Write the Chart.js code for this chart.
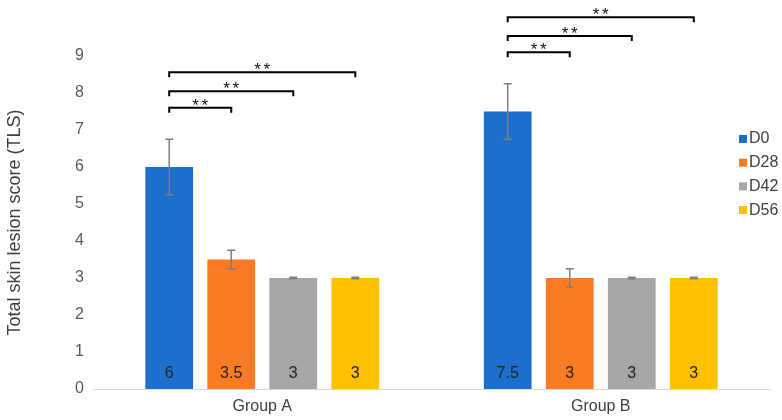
<!DOCTYPE html>
<html>
<head>
<meta charset="utf-8">
<script src="https://cdn.jsdelivr.net/npm/chart.js@4/dist/chart.umd.min.js"></script>
<style>
  html, body { margin: 0; padding: 0; background: #fff; }
  #wrap { width: 782px; height: 420px; }
</style>
</head>
<body>
<div id="wrap"><canvas id="chart"></canvas></div>
<script>
// Data
const categories = ["Group A", "Group B"];
const seriesNames = ["D0", "D28", "D42", "D56"];
const d0 = [6, 7.5];
const d28 = [3.5, 3];
const d42 = [3, 3];
const d56 = [3, 3];
// error bar half-widths (score units)
const d0Err = [0.75, 0.75];
const d28Err = [0.25, 0.25];
const d42Err = [0.02, 0.02];
const d56Err = [0.02, 0.02];
const yMax = 9;

// significance brackets: from series index to series index, level in score units
const bracketPairs = [[0, 1], [0, 2], [0, 3]];
const bracketLevels = [
  [7.6, 8.05, 8.56],   // Group A
  [9.1, 9.54, 10.05]   // Group B
];
const bracketMark = "*";

const colors = ["#1C6FCB", "#F97C25", "#A6A6A6", "#FFC000"];
const FONT = "'Liberation Sans', Arial, sans-serif";

const values = [d0, d28, d42, d56];
const errors = [d0Err, d28Err, d42Err, d56Err];

const overlay = {
  id: "overlay",
  afterDatasetsDraw(chart) {
    const ctx = chart.ctx;
    const y = chart.scales.y;
    const area = chart.chartArea;
    ctx.save();

    // error bars
    ctx.strokeStyle = "#7F7F7F";
    ctx.lineWidth = 1.5;
    chart.data.datasets.forEach((ds, i) => {
      chart.getDatasetMeta(i).data.forEach((bar, j) => {
        const v = ds.data[j], e = errors[i][j];
        const top = y.getPixelForValue(v + e);
        const bot = y.getPixelForValue(v - e);
        ctx.beginPath();
        ctx.moveTo(bar.x, top); ctx.lineTo(bar.x, bot);
        ctx.moveTo(bar.x - 4, top); ctx.lineTo(bar.x + 4, top);
        ctx.moveTo(bar.x - 4, bot); ctx.lineTo(bar.x + 4, bot);
        ctx.stroke();
      });
    });

    // value labels at the foot of each bar
    ctx.fillStyle = "#222";
    ctx.font = "16px " + FONT;
    ctx.textAlign = "center";
    ctx.textBaseline = "middle";
    chart.data.datasets.forEach((ds, i) => {
      chart.getDatasetMeta(i).data.forEach((bar, j) => {
        ctx.fillText(String(ds.data[j]), bar.x, y.getPixelForValue(0) - 15);
      });
    });

    // significance brackets (two spaced asterisks above each)
    ctx.strokeStyle = "#000";
    ctx.lineWidth = 2;
    ctx.font = "17px " + FONT;
    ctx.textBaseline = "alphabetic";
    categories.forEach((c, j) => {
      bracketPairs.forEach((p, k) => {
        const x1 = chart.getDatasetMeta(p[0]).data[j].x;
        const x2 = chart.getDatasetMeta(p[1]).data[j].x;
        const by = y.getPixelForValue(bracketLevels[j][k]);
        ctx.beginPath();
        ctx.moveTo(x1, by + 5); ctx.lineTo(x1, by); ctx.lineTo(x2, by); ctx.lineTo(x2, by + 5);
        ctx.stroke();
        ctx.fillStyle = "#111";
        const mid = (x1 + x2) / 2;
        ctx.fillText(bracketMark, mid - 4.6, by + 3);
        ctx.fillText(bracketMark, mid + 4.6, by + 3);
      });
    });

    // legend, overlaid at the right like the original
    ctx.font = "16px " + FONT;
    ctx.textAlign = "left";
    ctx.textBaseline = "middle";
    chart.data.datasets.forEach((ds, i) => {
      const ly = area.top + 83 + i * 23.7;
      const lx = area.right - 31;
      ctx.fillStyle = ds.backgroundColor;
      ctx.fillRect(lx, ly - 4, 8, 8);
      ctx.fillStyle = "#404040";
      ctx.fillText(ds.label, lx + 10, ly);
    });

    ctx.restore();
  }
};

new Chart(document.getElementById("chart"), {
  type: "bar",
  data: {
    labels: categories,
    datasets: seriesNames.map((name, i) => ({
      label: name,
      data: values[i],
      backgroundColor: colors[i],
      categoryPercentage: 0.733,
      barPercentage: 0.77
    }))
  },
  options: {
    responsive: true,
    maintainAspectRatio: false,
    animation: false,
    layout: { padding: { top: 56, right: 12, left: 4, bottom: 0 } },
    plugins: {
      legend: { display: false },
      tooltip: { enabled: false }
    },
    scales: {
      x: {
        grid: { display: false, drawTicks: false },
        border: { display: true, color: "#D9D9D9", width: 1 },
        ticks: { color: "#404040", font: { family: FONT, size: 16 }, padding: 8 },
        afterFit(s) { s.height = 31; }
      },
      y: {
        min: 0,
        max: yMax,
        grid: { display: false, drawTicks: false },
        border: { display: false },
        ticks: { stepSize: 1, color: "#595959", font: { family: FONT, size: 16 }, padding: 9 },
        title: {
          display: true,
          text: "Total skin lesion score (TLS)",
          color: "#404040",
          font: { family: FONT, size: 18 },
          padding: { top: 0, bottom: 0 }
        },
        afterFit(s) { s.width = 89; }
      }
    }
  },
  plugins: [overlay]
});
</script>
</body>
</html>
